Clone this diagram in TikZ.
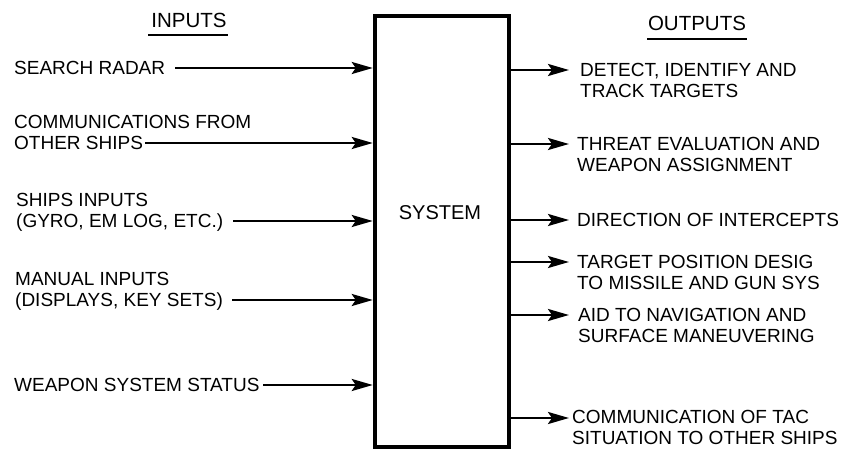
\documentclass[tikz,border=0pt]{standalone}
\usepackage{fontspec}
\setmainfont{Liberation Sans}
\usetikzlibrary{arrows.meta}
\begin{document}
\begin{tikzpicture}[x=1pt,y=-1pt,
  lbl/.style={font=\fontsize{19}{21}\selectfont, inner sep=0pt, align=left},
  arr/.style={line width=2.6pt, -{Stealth[length=21pt,width=12pt,inset=4pt]}},
  uline/.style={line width=2.4pt}]
\useasboundingbox (0,0) rectangle (841,449);
% system box
\node[draw, line width=4.5pt, minimum width=134pt, minimum height=431pt, inner sep=0pt] (sys) at (442,231.5) {};
\node[lbl, font=\fontsize{20}{22}\selectfont] (syslbl) at (440,213) {SYSTEM};
% headers
\node[lbl, font=\fontsize{20.5}{22}\selectfont] (hin) at (189,20) {INPUTS};
\draw[uline] (148,35) -- (228,35);
\node[lbl, font=\fontsize{20.5}{22}\selectfont] (hout) at (697,23) {OUTPUTS};
\draw[uline] (647,39) -- (747,39);
% inputs (base = last line)
\node[lbl, anchor=base west] (in1) at (14,74.8) {SEARCH RADAR};
\node[lbl, anchor=base west] (in2) at (14,149.8) {COMMUNICATIONS FROM\\OTHER SHIPS};
\node[lbl, anchor=base west] (in3) at (16,227.8) {SHIPS INPUTS\\(GYRO, EM LOG, ETC.)};
\node[lbl, anchor=base west] (in4) at (15,306.8) {MANUAL INPUTS\\(DISPLAYS, KEY SETS)};
\node[lbl, anchor=base west] (in5) at (14,391.8) {WEAPON SYSTEM STATUS};
\coordinate (s1) at (175,68);
\coordinate (s2) at (145,143);
\coordinate (s3) at (233,221);
\coordinate (s4) at (232,300);
\coordinate (s5) at (263,385);
\foreach \s in {s1,s2,s3,s4,s5}
  \draw[arr] (\s) -- (\s -| sys.west);
% outputs (base = last line)
\node[lbl, anchor=base west] (out1) at (580,97.8) {DETECT, IDENTIFY AND\\TRACK TARGETS};
\node[lbl, anchor=base west] (out2) at (577,171.8) {THREAT EVALUATION AND\\WEAPON ASSIGNMENT};
\node[lbl, anchor=base west] (out3) at (577,226.8) {DIRECTION OF INTERCEPTS};
\node[lbl, anchor=base west] (out4) at (577,289.8) {TARGET POSITION DESIG\\TO MISSILE AND GUN SYS};
\node[lbl, anchor=base west] (out5) at (578,342.8) {AID TO NAVIGATION AND\\SURFACE MANEUVERING};
\node[lbl, anchor=base west] (out6) at (572,444.5) {COMMUNICATION OF TAC\\SITUATION TO OTHER SHIPS};
\coordinate (e1) at (569,70);
\coordinate (e2) at (569,144);
\coordinate (e3) at (569,220);
\coordinate (e4) at (569,262);
\coordinate (e5) at (569,315);
\coordinate (e6) at (569,418);
\foreach \e in {e1,e2,e3,e4,e5,e6}
  \draw[arr] (\e -| sys.east) -- (\e);
\end{tikzpicture}
\end{document}
